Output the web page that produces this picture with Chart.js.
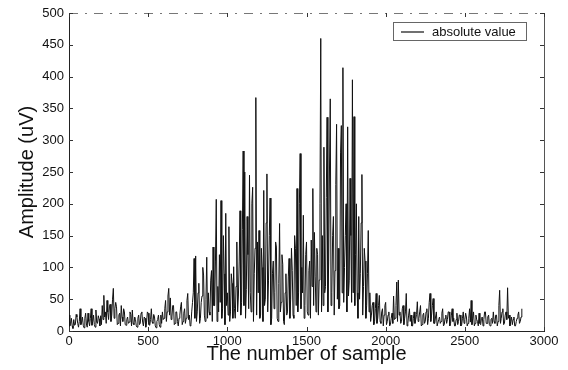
<!DOCTYPE html>
<html>
<head>
<meta charset="utf-8">
<script src="https://cdn.jsdelivr.net/npm/chart.js@4/dist/chart.umd.min.js"></script>
<style>
  html, body { margin: 0; padding: 0; background: #fff; }
  #wrap { width: 568px; height: 370px; }
</style>
</head>
<body>
<div id="wrap"><canvas id="emg"></canvas></div>
<script>
// amplitude, one value every 5 samples (0 .. 2860)
const sampleStep = 5
const amplitude = [
  25, 8, 12, 20, 8, 4, 18, 9, 10, 26, 22, 12, 6, 15, 35, 10, 14, 22, 9, 5, 20, 28, 11, 6, 28, 15, 8, 20, 35, 9, 15, 25, 10, 6, 33, 14, 12, 24, 19, 8,
  24, 10, 40, 18, 56, 22, 30, 12, 48, 30, 18, 38, 42, 15, 25, 50, 67, 20, 35, 45, 38, 10, 12, 25, 28, 8, 40, 22, 15, 35, 30, 10, 9, 18, 22, 12, 14, 30, 26, 8,
  33, 12, 10, 22, 18, 8, 6, 20, 25, 10, 12, 28, 30, 14, 8, 22, 20, 6, 14, 30, 28, 10, 9, 18, 35, 14, 12, 26, 22, 8, 5, 15, 18, 25, 10, 6, 25, 12, 30, 18,
  20, 35, 48, 15, 30, 55, 67, 25, 52, 18, 22, 40, 40, 10, 12, 30, 30, 15, 8, 20, 25, 38, 45, 10, 15, 28, 35, 12, 20, 48, 59, 18, 25, 8, 10, 30, 45, 60, 114, 20,
  118, 15, 30, 60, 75, 12, 20, 45, 55, 100, 88, 25, 15, 50, 116, 20, 60, 30, 25, 80, 95, 15, 132, 40, 40, 110, 207, 15, 70, 30, 120, 45, 205, 20, 35, 150, 90, 10, 185, 40,
  60, 25, 164, 15, 30, 90, 75, 20, 101, 35, 20, 70, 140, 30, 55, 110, 189, 25, 45, 160, 283, 40, 250, 20, 65, 180, 120, 35, 245, 60, 30, 200, 226, 15, 90, 130, 367, 25, 140, 60,
  158, 20, 25, 130, 100, 15, 221, 40, 50, 170, 247, 30, 80, 150, 209, 10, 20, 90, 110, 35, 60, 140, 132, 20, 15, 75, 169, 30, 45, 120, 105, 15, 10, 60, 90, 25, 30, 85, 114, 20,
  50, 130, 95, 25, 20, 150, 130, 40, 224, 30, 60, 200, 279, 35, 100, 60, 182, 20, 40, 120, 140, 30, 25, 95, 110, 20, 143, 70, 224, 40, 155, 85, 30, 130, 120, 25, 80, 200, 460, 30,
  150, 40, 289, 60, 70, 210, 336, 30, 110, 250, 365, 40, 60, 150, 180, 25, 95, 230, 325, 50, 130, 35, 40, 280, 323, 60, 414, 45, 100, 150, 200, 30, 321, 55, 80, 240, 150, 45, 395, 60,
  337, 40, 120, 200, 60, 20, 180, 50, 90, 170, 246, 25, 70, 130, 110, 20, 40, 90, 158, 30, 60, 15, 25, 40, 45, 10, 15, 35, 59, 12, 20, 40, 56, 15, 12, 30, 35, 8, 25, 40,
  45, 10, 15, 25, 30, 8, 10, 20, 28, 12, 55, 18, 20, 40, 77, 15, 80, 25, 30, 12, 15, 35, 40, 10, 20, 30, 59, 8, 12, 25, 35, 15, 25, 8, 8, 20, 30, 12, 18, 26,
  46, 15, 20, 30, 40, 8, 10, 25, 28, 12, 15, 30, 35, 10, 20, 45, 59, 15, 25, 40, 51, 12, 12, 22, 30, 8, 8, 18, 22, 12, 15, 28, 35, 8, 10, 20, 25, 12, 18, 30,
  30, 8, 12, 25, 35, 15, 20, 8, 8, 18, 28, 10, 15, 25, 25, 8, 10, 20, 30, 12, 18, 28, 22, 8, 12, 20, 35, 14, 48, 10, 20, 30, 8, 12, 25, 18, 15, 8, 28, 12,
  10, 20, 22, 8, 18, 30, 30, 12, 12, 22, 25, 10, 8, 18, 20, 12, 30, 15, 12, 25, 25, 8, 15, 40, 64, 12, 20, 30, 35, 10, 12, 25, 30, 18, 68, 20, 25, 8, 15, 22,
  10, 18, 22, 8, 8, 15, 20, 25, 30, 12, 15, 22, 35
]

const xTicks = [0, 500, 1000, 1500, 2000, 2500, 3000]
const yTicks = [0, 50, 100, 150, 200, 250, 300, 350, 400, 450, 500]
const seriesName = 'absolute value'

const points = amplitude.map((v, i) => ({ x: i * sampleStep, y: v }))

// matlab style frame: inward ticks on all sides, broken top edge, legend box
const framePlugin = {
  id: 'frame',
  afterDraw(chart) {
    const { ctx, chartArea: a, scales } = chart
    ctx.save()
    ctx.lineWidth = 1
    ctx.strokeStyle = '#555'
    // right edge
    ctx.beginPath()
    ctx.moveTo(a.right + 0.5, a.top)
    ctx.lineTo(a.right + 0.5, a.bottom)
    ctx.stroke()
    // top edge, faded in the scan
    ctx.setLineDash([9, 7, 2, 7])
    ctx.strokeStyle = '#777'
    ctx.beginPath()
    ctx.moveTo(a.left, a.top + 0.5)
    ctx.lineTo(a.right, a.top + 0.5)
    ctx.stroke()
    ctx.setLineDash([])

    ctx.strokeStyle = '#333'
    xTicks.forEach(t => {
      const x = Math.round(scales.x.getPixelForValue(t)) + 0.5
      ctx.beginPath()
      ctx.moveTo(x, a.bottom); ctx.lineTo(x, a.bottom - 4)
      ctx.moveTo(x, a.top); ctx.lineTo(x, a.top + 4)
      ctx.stroke()
    })
    yTicks.forEach(t => {
      const y = Math.round(scales.y.getPixelForValue(t)) + 0.5
      ctx.beginPath()
      ctx.moveTo(a.left, y); ctx.lineTo(a.left + 4, y)
      ctx.moveTo(a.right, y); ctx.lineTo(a.right - 4, y)
      ctx.stroke()
    })

    // legend
    const bx = 393.5, by = 22.5, bw = 133, bh = 18
    ctx.fillStyle = '#fff'
    ctx.fillRect(bx, by, bw, bh)
    ctx.strokeStyle = '#666'
    ctx.strokeRect(bx, by, bw, bh)
    ctx.strokeStyle = '#111'
    ctx.lineWidth = 1.2
    ctx.beginPath()
    ctx.moveTo(401, 32); ctx.lineTo(424, 32)
    ctx.stroke()
    ctx.fillStyle = '#111'
    ctx.font = '13px "Liberation Sans", Arial, sans-serif'
    ctx.textBaseline = 'middle'
    ctx.fillText(seriesName, 432, 32)
    ctx.restore()
  }
}

new Chart(document.getElementById('emg'), {
  type: 'line',
  data: {
    datasets: [{
      label: seriesName,
      data: points,
      borderColor: '#111',
      borderWidth: 1,
      pointRadius: 0,
      fill: false,
      tension: 0
    }]
  },
  options: {
    responsive: true,
    maintainAspectRatio: false,
    animation: false,
    layout: { padding: { top: 13, right: 24, bottom: 0, left: 0 } },
    plugins: {
      legend: { display: false },
      tooltip: { enabled: false }
    },
    scales: {
      x: {
        type: 'linear',
        min: 0,
        max: 3000,
        afterFit: (s) => { s.height = 39 },
        afterBuildTicks: (s) => { s.ticks = xTicks.map(v => ({ value: v })) },
        grid: { display: false, drawTicks: false },
        border: { display: true, color: '#222', width: 1 },
        ticks: {
          padding: 3,
          maxRotation: 0,
          color: '#111',
          font: { family: '"Liberation Sans", Arial, sans-serif', size: 13 },
          callback: (v) => String(v)
        },
        title: {
          display: true,
          text: 'The number of sample',
          color: '#111',
          padding: { top: 0, bottom: 4 },
          font: { family: '"Liberation Sans", Arial, sans-serif', size: 20 }
        }
      },
      y: {
        min: 0,
        max: 500,
        afterFit: (s) => { s.width = 69 },
        afterBuildTicks: (s) => { s.ticks = yTicks.map(v => ({ value: v })) },
        grid: { display: false, drawTicks: false },
        border: { display: true, color: '#222', width: 1 },
        ticks: {
          padding: 5,
          color: '#111',
          font: { family: '"Liberation Sans", Arial, sans-serif', size: 13 },
          callback: (v) => String(v)
        },
        title: {
          display: true,
          text: 'Amplitude (uV)',
          color: '#111',
          padding: { top: 15, bottom: 0 },
          font: { family: '"Liberation Sans", Arial, sans-serif', size: 20 }
        }
      }
    }
  },
  plugins: [framePlugin]
})
</script>
</body>
</html>
